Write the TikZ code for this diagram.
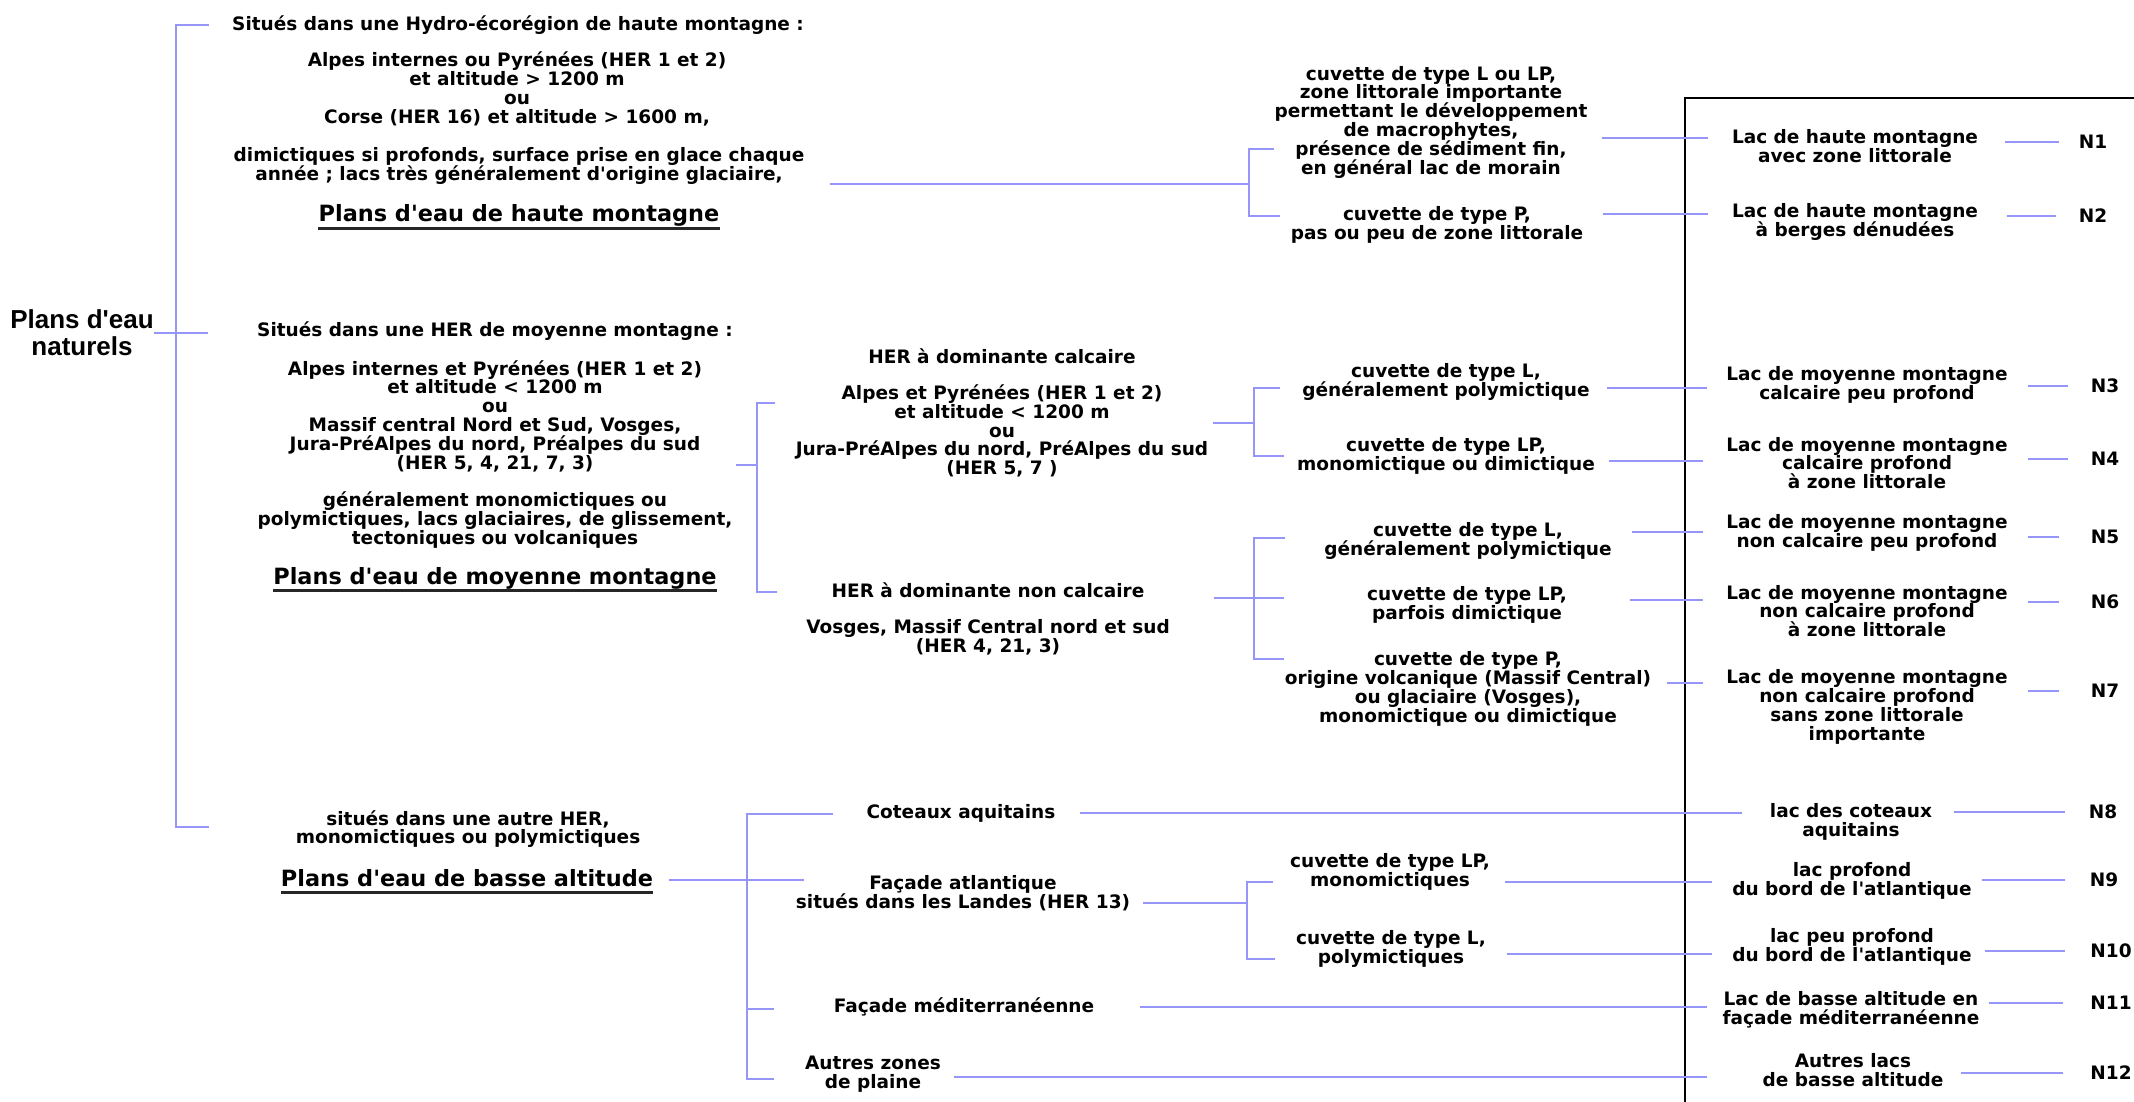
\documentclass[tikz,border=0pt]{standalone}
\usepackage{fontspec}
\setmainfont{DejaVu Sans}
\newfontfamily\rootfont{Liberation Sans}
\definecolor{linkblue}{RGB}{150,150,250}
\setlength{\lineskiplimit}{-100pt}

\begin{document}
\begin{tikzpicture}[x=1pt,y=-1pt,
  txt/.style={font=\bfseries\fontsize{18.5}{18.8}\selectfont,align=center,inner sep=0pt},
  lac/.style={txt},
  ttl/.style={font=\bfseries\fontsize{22.4}{24}\selectfont,inner sep=0pt,anchor=base},
  nlab/.style={font=\bfseries\fontsize{18.5}{18.8}\selectfont,inner sep=0pt},
  link/.style={draw=linkblue,line width=2pt},
  uline/.style={line width=2.5pt,black!85},
  boxline/.style={line width=1.6pt,black}]
\useasboundingbox (0,0) rectangle (2134,1102);

% Root
\node[font=\rootfont\bfseries\fontsize{26}{27}\selectfont,align=center,inner sep=0pt] (root) at (82,333) {Plans d\textquotesingle eau\\naturels};

% Haute montagne
\node[txt] (hmS) at (518,25) {Situés dans une Hydro-écorégion de haute montagne :};
\node[txt] (hmA) at (517,89) {Alpes internes ou Pyrénées (HER 1 et 2)\\et altitude > 1200 m\\ou\\Corse (HER 16) et altitude > 1600 m,};
\node[txt] (hmD) at (519,166) {dimictiques si profonds, surface prise en glace chaque\\année ; lacs très généralement d\textquotesingle origine glaciaire,};
\node[ttl] (hmT) at (519,222) {Plans d\textquotesingle eau de haute montagne};
\node[txt] (cLo) at (1431,122) {cuvette de type L ou LP,\\zone littorale importante\\permettant le développement\\de macrophytes,\\présence de sédiment fin,\\en général lac de morain};
\node[txt] (cP) at (1437,225) {cuvette de type P,\\pas ou peu de zone littorale};

% Moyenne montagne
\node[txt] (mmS) at (495,331) {Situés dans une HER de moyenne montagne :};
\node[txt] (mmA) at (495,416) {Alpes internes et Pyrénées (HER 1 et 2)\\et altitude < 1200 m\\ou\\Massif central Nord et Sud, Vosges,\\Jura-PréAlpes du nord, Préalpes du sud\\(HER 5, 4, 21, 7, 3)};
\node[txt] (mmD) at (495,520) {généralement monomictiques ou\\polymictiques, lacs glaciaires, de glissement,\\tectoniques ou volcaniques};
\node[ttl] (mmT) at (495,584) {Plans d\textquotesingle eau de moyenne montagne};

\node[txt] (caH) at (1002,356) {HER à dominante calcaire};
\node[txt] (calc) at (1002,431) {Alpes et Pyrénées (HER 1 et 2)\\et altitude < 1200 m\\ou\\Jura-PréAlpes du nord, PréAlpes du sud\\(HER 5, 7 )};
\node[txt] (cL1) at (1446,382) {cuvette de type L,\\généralement polymictique};
\node[txt] (cLP1) at (1446,456) {cuvette de type LP,\\monomictique ou dimictique};

\node[txt] (ncH) at (988,590) {HER à dominante non calcaire};
\node[txt] (nc) at (988,637) {Vosges, Massif Central nord et sud\\(HER 4, 21, 3)};
\node[txt] (cL2) at (1468,541) {cuvette de type L,\\généralement polymictique};
\node[txt] (cLP2) at (1467,605) {cuvette de type LP,\\parfois dimictique};
\node[txt] (cP2) at (1468,689) {cuvette de type P,\\origine volcanique (Massif Central)\\ou glaciaire (Vosges),\\monomictique ou dimictique};

% Basse altitude
\node[txt] (baS) at (468,829) {situés dans une autre HER,\\monomictiques ou polymictiques};
\node[ttl] (baT) at (467,886) {Plans d\textquotesingle eau de basse altitude};
\node[txt] (cot) at (961,813) {Coteaux aquitains};
\node[txt] (atl) at (963,893) {Façade atlantique\\situés dans les Landes (HER 13)};
\node[txt] (cLP3) at (1390,872) {cuvette de type LP,\\monomictiques};
\node[txt] (cL3) at (1391,949) {cuvette de type L,\\polymictiques};
\node[txt] (med) at (964,1007) {Façade méditerranéenne};
\node[txt] (aut) at (873,1074) {Autres zones\\de plaine};

% Types of lakes
\node[lac] (lac1) at (1855,146) {Lac de haute montagne\\avec zone littorale};
\node[lac] (lac2) at (1855,222) {Lac de haute montagne\\à berges dénudées};
\node[lac] (lac3) at (1867,385) {Lac de moyenne montagne\\calcaire peu profond};
\node[lac] (lac4) at (1867,463) {Lac de moyenne montagne\\calcaire profond\\à zone littorale};
\node[lac] (lac5) at (1867,533) {Lac de moyenne montagne\\non calcaire peu profond};
\node[lac] (lac6) at (1867,611) {Lac de moyenne montagne\\non calcaire profond\\à zone littorale};
\node[lac] (lac7) at (1867,707) {Lac de moyenne montagne\\non calcaire profond\\sans zone littorale\\importante};
\node[lac] (lac8) at (1851,822) {lac des coteaux\\aquitains};
\node[lac] (lac9) at (1852,881) {lac profond\\du bord de l\textquotesingle atlantique};
\node[lac] (lac10) at (1852,947) {lac peu profond\\du bord de l\textquotesingle atlantique};
\node[lac] (lac11) at (1851,1010) {Lac de basse altitude en\\façade méditerranéenne};
\node[lac] (lac12) at (1853,1070) {Autres lacs\\de basse altitude};

% Codes
\foreach \k/\xx/\yy in {1/2093/142,2/2093/216,3/2105/386,4/2105/459,5/2105/537,6/2105/602,7/2105/691,8/2103/812,9/2104/880,10/2111/951,11/2111/1003,12/2111/1073}
  \node[nlab] (n\k) at (\xx,\yy) {N\k};

% Frame
\draw[boxline] (1685,1110) -- (1685,98) -- (2140,98);

% Main bracket
\coordinate (mJ) at (176,333);
\coordinate (mTop) at (209,25);
\coordinate (mMid) at (208,333);
\coordinate (mBot) at (209,827);
\draw[link] (mTop) -| (mJ) |- (mBot);
\draw[link] (root.east) -- (mMid);

% Haute montagne bracket
\coordinate (hmJ) at (1249,184);
\coordinate (hmTop) at (1274,149);
\coordinate (hmBot) at (1280,216);
\draw[link] ([xshift=26]hmD.east |- hmJ) -- (hmJ);
\draw[link] (hmTop) -| (hmJ) |- (hmBot);

% Moyenne montagne brackets
\coordinate (mmJ) at (757,465);
\coordinate (mmTop) at (775,403);
\coordinate (mmBot) at (777,592);
\draw[link] ([xshift=34]mmA.east |- mmJ) -- (mmJ);
\draw[link] (mmTop) -| (mmJ) |- (mmBot);

\coordinate (caJ) at (1254,423);
\coordinate (caTop) at (1280,388);
\coordinate (caBot) at (1284,456);
\draw[link] ([xshift=5]calc.east |- caJ) -- (caJ);
\draw[link] (caTop) -| (caJ) |- (caBot);

\coordinate (ncJ) at (1254,598);
\coordinate (ncTop) at (1285,538);
\coordinate (ncMid) at (1284,598);
\coordinate (ncBot) at (1284,659);
\draw[link] ([xshift=69]ncH.east |- ncJ) -- (ncMid);
\draw[link] (ncTop) -| (ncJ) |- (ncBot);

% Basse altitude brackets
\coordinate (baJ) at (747,880);
\coordinate (baTop) at (833,814);
\coordinate (baMid) at (804,880);
\coordinate (baMed) at (774,1009);
\coordinate (baBot) at (774,1079);
\draw[link] ([xshift=16]baT.east |- baJ) -- (baMid);
\draw[link] (baTop) -| (baJ) |- (baBot);
\draw[link] (baJ |- baMed) -- (baMed);

\coordinate (atJ) at (1247,903);
\coordinate (atTop) at (1273,882);
\coordinate (atBot) at (1275,959);
\draw[link] ([xshift=13]atl.east |- atJ) -- (atJ);
\draw[link] (atTop) -| (atJ) |- (atBot);

% Links to the lake types
\foreach \src/\gap/\yy/\xe [count=\k] in {cLo/14/138/1708,cP/20/214/1708,cL1/17/388/1707,cLP1/14/461/1703,cL2/20/532/1703,cLP2/63/600/1703,cP2/16/683/1703,cot/24/813/1742,cLP3/15/882/1712,cL3/21/954/1712,med/46/1007/1707,aut/13/1077/1707}{
  \coordinate (in\k) at (\xe,\yy);
  \draw[link] ([xshift=\gap]\src.east |- in\k) -- (in\k);
}

% Links to the codes
\foreach \k/\ga/\gb in {1/27/20,2/29/23,3/20/23,4/20/23,5/20/32,6/20/32,7/20/32,8/22/24,9/10/25,10/13/25,11/9/27,12/17/27}
  \draw[link] ([xshift=\ga]lac\k.east |- n\k.west) -- ([xshift=-\gb]n\k.west);

% Underlines
\foreach \t in {hmT,mmT,baT}
  \draw[uline] ([yshift=-6.5]\t.base west) -- ([yshift=-6.5]\t.base east);
\end{tikzpicture}
\end{document}
